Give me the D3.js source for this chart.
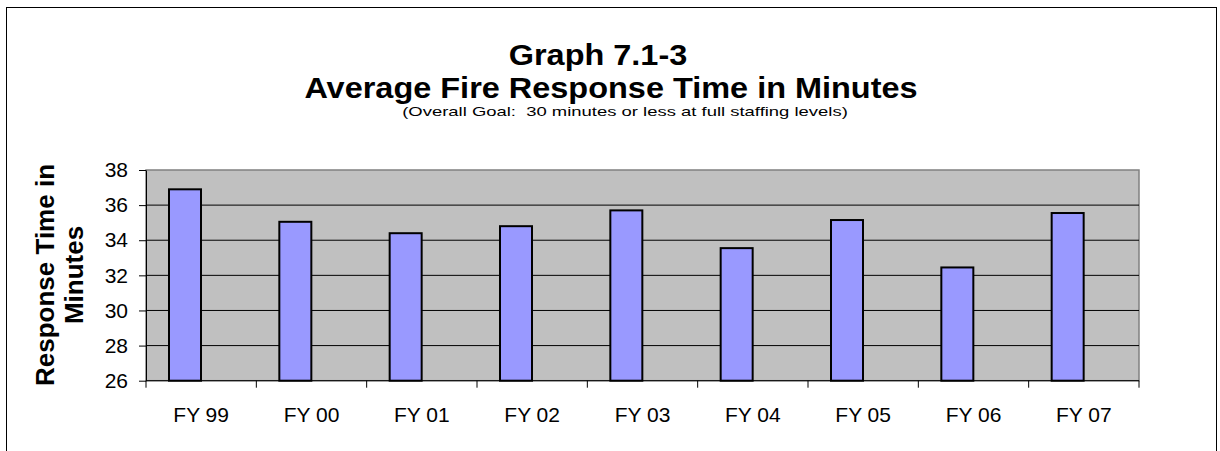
<!DOCTYPE html>
<html>
<head>
<meta charset="utf-8">
<script src="https://cdn.jsdelivr.net/npm/d3@7"></script>
<style>
  body { margin: 0; background: #fff; }
  svg { display: block; font-family: "Liberation Sans", Arial, sans-serif; }
</style>
</head>
<body>
<div id="plot"></div>
<script>
// data
let years = ['FY 99', 'FY 00', 'FY 01', 'FY 02', 'FY 03', 'FY 04', 'FY 05', 'FY 06', 'FY 07'];
let responseTimes = [36.9, 35.05, 34.4, 34.8, 35.7, 33.55, 35.15, 32.45, 35.55];
let yTicks = [26, 28, 30, 32, 34, 36, 38];

let width = 1220, height = 451;
let margin = { top: 170, bottom: 70, left: 146, right: 81 };

let svg = d3.select('#plot')
  .append('svg')
  .attr('width', width)
  .attr('height', height);

// outer chart frame
svg.append('rect')
  .attr('x', 6.5).attr('y', 7.5)
  .attr('width', 1210).attr('height', 460)
  .attr('fill', 'none')
  .attr('stroke', '#000')
  .attr('stroke-width', 1);

// titles
svg.append('text')
  .attr('transform', 'translate(598,65) scale(1.12,1)')
  .attr('text-anchor', 'middle')
  .style('font-size', '29px').style('font-weight', 'bold')
  .text('Graph 7.1-3');
svg.append('text')
  .attr('transform', 'translate(611,98) scale(1.12,1)')
  .attr('text-anchor', 'middle')
  .style('font-size', '29px').style('font-weight', 'bold')
  .text('Average Fire Response Time in Minutes');
svg.append('text')
  .attr('transform', 'translate(625,116) scale(1.42,1)')
  .attr('text-anchor', 'middle')
  .attr('xml:space', 'preserve')
  .style('white-space', 'pre')
  .style('font-size', '13px')
  .text('(Overall Goal:  30 minutes or less at full staffing levels)');

let yScale = d3.scaleLinear()
  .domain([26, 38])
  .range([height - margin.bottom - 0.3, margin.top]);

let xScale = d3.scaleBand()
  .domain(years)
  .range([margin.left, width - margin.right]);

// plot area
svg.append('rect')
  .attr('x', margin.left).attr('y', margin.top)
  .attr('width', width - margin.left - margin.right)
  .attr('height', yScale(26) - margin.top)
  .attr('fill', '#c0c0c0')
  .attr('stroke', '#808080')
  .attr('stroke-width', 1.5);

// gridlines
svg.append('g')
  .selectAll('line')
  .data(yTicks.slice(1, -1))
  .enter()
  .append('line')
  .attr('x1', margin.left).attr('x2', width - margin.right)
  .attr('y1', d => yScale(d)).attr('y2', d => yScale(d))
  .attr('stroke', '#000')
  .attr('stroke-width', 1);

// bars (sit in the left half of each band)
let offset = 23, barW = 32;
svg.append('g')
  .selectAll('rect')
  .data(responseTimes)
  .enter()
  .append('rect')
  .attr('x', (d, i) => xScale(years[i]) + offset)
  .attr('y', d => yScale(d))
  .attr('width', barW)
  .attr('height', d => yScale(26) - yScale(d))
  .attr('fill', '#9999ff')
  .attr('stroke', '#000')
  .attr('stroke-width', 2);

// y axis
let yAxis = svg.append('g')
  .attr('transform', `translate(${margin.left},0)`)
  .call(d3.axisLeft(yScale).tickValues(yTicks).tickSize(7).tickPadding(11).tickSizeOuter(0));
yAxis.selectAll('text').style('font-size', '21px').attr('fill', '#000').attr('font-family', null);
yAxis.selectAll('line, path').attr('stroke', '#000');

// x axis: ticks on band edges
let xAxisG = svg.append('g')
  .attr('transform', `translate(0,${yScale(26)})`);
xAxisG.append('line')
  .attr('x1', margin.left).attr('x2', width - margin.right)
  .attr('stroke', '#000');
let edges = years.map(d => xScale(d)).concat([width - margin.right]);
xAxisG.selectAll('.edge')
  .data(edges)
  .enter()
  .append('line')
  .attr('class', 'edge')
  .attr('x1', d => d).attr('x2', d => d)
  .attr('y1', 0).attr('y2', 7)
  .attr('stroke', '#000');
xAxisG.selectAll('.lbl')
  .data(years)
  .enter()
  .append('text')
  .attr('class', 'lbl')
  .attr('x', d => xScale(d) + xScale.bandwidth() / 2)
  .attr('y', 41)
  .attr('text-anchor', 'middle')
  .style('font-size', '21px')
  .text(d => d);

// y axis title
let yTitle = svg.append('text')
  .attr('transform', 'translate(0,275) rotate(-90)')
  .attr('text-anchor', 'middle')
  .style('font-size', '26px').style('font-weight', 'bold');
yTitle.append('tspan').attr('x', 0).attr('y', 54).text('Response Time in');
yTitle.append('tspan').attr('x', 0).attr('y', 83).text('Minutes');
</script>
</body>
</html>
